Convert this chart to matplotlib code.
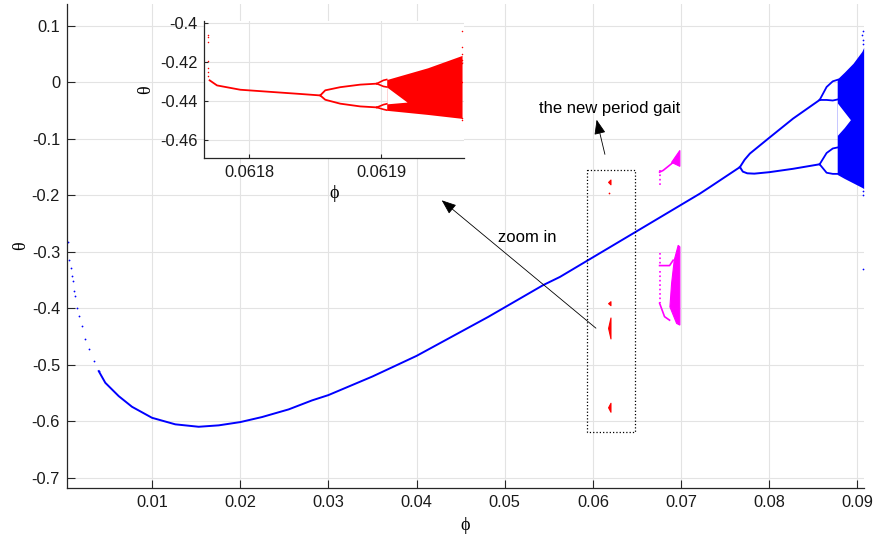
import numpy as np
import matplotlib
matplotlib.use("Agg")
import matplotlib.pyplot as plt

plt.rcParams['font.family'] = ['Liberation Sans', 'DejaVu Sans']
GREEK = ['Liberation Serif', 'DejaVu Serif']

# ---- main diagram data (phi, theta) ----
# sparse start of the period-1 curve
start_phi = [0.000476, 0.000624, 0.000816, 0.00093, 0.001043, 0.001156, 0.001304,
             0.001497, 0.001757, 0.002063, 0.002438, 0.002823, 0.00339, 0.003957]
start_theta = [-0.2832, -0.3150, -0.3287, -0.3421, -0.3522, -0.3699, -0.3788,
               -0.3995, -0.4142, -0.4319, -0.4554, -0.4731, -0.4938, -0.5115]
# period-1 curve
p1_phi = [0.003957, 0.004705, 0.006224, 0.007732, 0.0100, 0.012642,
          0.015295, 0.017562, 0.020011, 0.022472, 0.025499, 0.028141, 0.0300,
          0.0350, 0.0400, 0.0450, 0.04813, 0.05437, 0.05626, 0.0642, 0.07213,
          0.07327, 0.07667]
p1_theta = [-0.5115, -0.5322, -0.5558, -0.5747, -0.5942, -0.6058,
            -0.6101, -0.6076, -0.6018, -0.5929, -0.5793, -0.5634, -0.554,
            -0.521, -0.4845, -0.442, -0.4154, -0.359, -0.3446, -0.2708, -0.197,
            -0.1853, -0.150]
# period-2 branches
p2u_phi = [0.07667, 0.0772, 0.0778, 0.0800, 0.0827, 0.08571]
p2u_theta = [-0.150, -0.137, -0.126, -0.098, -0.064, -0.031]
p2l_phi = [0.07667, 0.0770, 0.0775, 0.0783, 0.0800, 0.0827, 0.08571]
p2l_theta = [-0.150, -0.158, -0.161, -0.1616, -0.159, -0.153, -0.145]
# period-4 loops
p4_phi = [0.08571, 0.0865, 0.0872, 0.0878]
p4a_up = [-0.031, -0.008, 0.002, 0.005]
p4a_lo = [-0.031, -0.031, -0.032, -0.030]
p4b_up = [-0.145, -0.125, -0.117, -0.115]
p4b_lo = [-0.145, -0.160, -0.162, -0.162]
# chaotic band
ch_phi = [0.0877, 0.0885, 0.0895, 0.0905, 0.0907]
ch_hi = [0.006, 0.018, 0.034, 0.055, 0.062]
ch_lo = [-0.163, -0.170, -0.178, -0.186, -0.188]
hole_phi = [0.0877, 0.0885, 0.0892]
hole_hi = [-0.036, -0.052, -0.066]
hole_lo = [-0.094, -0.080, -0.066]
blue_dots_phi = [0.0906, 0.0906, 0.0905, 0.0906, 0.0906, 0.0906, 0.0906]
blue_dots_theta = [0.068, 0.076, 0.084, 0.092, -0.193, -0.199, -0.331]

# red blobs near phi = 0.0618 (main view)
red_phi = [0.06172, 0.06199]
red_top = [-0.172, -0.3876, -0.4165, -0.5676]
red_bot = [-0.1805, -0.3947, -0.4536, -0.5835]
red_dot = (0.06183, -0.196)

# magenta structures
mag_dots_phi = 0.06756
mag_dots_ranges = [(-0.1545, -0.181), (-0.3015, -0.3245), (-0.3345, -0.3912)]
mag_up_line_phi = [0.06756, 0.06797, 0.06892, 0.0692]
mag_up_line_theta = [-0.159, -0.1558, -0.1439, -0.140]
mag_up_poly_phi = [0.06892, 0.06986, 0.06986]
mag_up_poly_theta = [-0.1416, -0.1204, -0.1487]
mag_lo_a_phi = [0.06756, 0.06869, 0.0691]
mag_lo_a_theta = [-0.3245, -0.3245, -0.315]
mag_lo_b_phi = [0.06756, 0.06812, 0.06869]
mag_lo_b_theta = [-0.3912, -0.415, -0.4212]
mag_lo_poly_phi = [0.06967, 0.06986, 0.06986, 0.06949, 0.06873, 0.06892, 0.06922]
mag_lo_poly_theta = [-0.2885, -0.2915, -0.430, -0.427, -0.3977, -0.3563, -0.315]

# ---- inset data ----
in_p1_phi = [0.061770, 0.0617756, 0.0617932, 0.0618184, 0.0618375, 0.0618537]
in_p1_theta = [-0.4294, -0.4320, -0.4342, -0.4354, -0.4363, -0.4371]
in_p2u_phi = [0.0618537, 0.0618575, 0.0618688, 0.0618839, 0.0618965]
in_p2u_theta = [-0.4371, -0.4345, -0.4329, -0.4316, -0.4311]
in_p2l_phi = [0.0618537, 0.0618575, 0.0618688, 0.0618839, 0.0618965]
in_p2l_theta = [-0.4371, -0.4393, -0.4413, -0.4427, -0.4432]
in_p4_phi = [0.0618965, 0.0619015, 0.0619040]
in_p4a_up = [-0.4311, -0.4294, -0.4290]
in_p4a_lo = [-0.4311, -0.4325, -0.4328]
in_p4b_up = [-0.4432, -0.4418, -0.4414]
in_p4b_lo = [-0.4432, -0.4442, -0.4446]
in_ch_phi = [0.0619040, 0.061935, 0.061961]
in_ch_hi = [-0.4290, -0.4230, -0.4167]
in_ch_lo = [-0.4447, -0.4468, -0.4488]
in_hole_phi = [0.0619040, 0.0619194]
in_hole_hi = [-0.4328, -0.4405]
in_hole_lo = [-0.4414, -0.4405]
in_dots_phi = [0.061769] * 7 + [0.061961] * 8
in_dots_theta = [-0.4065, -0.4075, -0.4098, -0.4197, -0.4233, -0.4250, -0.4270,
                 -0.4042, -0.4124, -0.4158, -0.4190, -0.4205, -0.4300, -0.4485, -0.4498]

BLUE = '#0000ff'
RED = '#ff0000'
MAG = '#ff00ff'
GRID = '#e3e3e3'
SPINE = '#262626'

fig = plt.figure(figsize=(8.77, 5.35), dpi=100)
ax = fig.add_axes([67 / 877, 47 / 535, 797 / 877, 484 / 535])

ax.plot(start_phi, start_theta, '.', color=BLUE, ms=2.6, mew=0)
ax.plot(p1_phi, p1_theta, color=BLUE, lw=1.4)
ax.plot(p2u_phi, p2u_theta, color=BLUE, lw=1.4)
ax.plot(p2l_phi, p2l_theta, color=BLUE, lw=1.4)
for up, lo in [(p4a_up, p4a_lo), (p4b_up, p4b_lo)]:
    ax.plot(p4_phi, up, color=BLUE, lw=1.3)
    ax.plot(p4_phi, lo, color=BLUE, lw=1.3)
ax.fill_between(ch_phi, ch_lo, ch_hi, color=BLUE, lw=0)
ax.fill_between(hole_phi, hole_lo, hole_hi, color='white', lw=0)
ax.plot(blue_dots_phi, blue_dots_theta, '.', color=BLUE, ms=2.5, mew=0)

for top, bot in zip(red_top, red_bot):
    mid = (top + bot) / 2
    ax.fill_between(red_phi, [mid, bot], [mid, top], color=RED, lw=0.8, edgecolor=RED)
ax.plot(*red_dot, '.', color=RED, ms=2.5, mew=0)

for a, b in mag_dots_ranges:
    ax.plot([mag_dots_phi, mag_dots_phi], [a, b], ':', color=MAG, lw=1.2)
ax.plot(mag_up_line_phi, mag_up_line_theta, color=MAG, lw=1.2)
ax.fill(mag_up_poly_phi, mag_up_poly_theta, color=MAG, lw=0.8)
ax.plot(mag_lo_a_phi, mag_lo_a_theta, color=MAG, lw=1.2)
ax.plot(mag_lo_b_phi, mag_lo_b_theta, color=MAG, lw=1.2)
ax.fill(mag_lo_poly_phi, mag_lo_poly_theta, color=MAG, lw=0.8)

# dotted box, arrows, labels
ax.plot([0.05929, 0.06480, 0.06480, 0.05929, 0.05929],
        [-0.1545, -0.1545, -0.6195, -0.6195, -0.1545], ':', color='k', lw=0.9)
arrow = dict(arrowstyle='-|>,head_length=0.9,head_width=0.35', color='k', lw=0.6,
             shrinkA=0, shrinkB=0)
ax.annotate('', xy=(0.06042, -0.066), xytext=(0.06136, -0.1274), arrowprops=arrow)
ax.annotate('', xy=(0.04285, -0.2088), xytext=(0.06034, -0.4354), arrowprops=arrow)
ax.text(0.0619, -0.046, 'the new period gait', fontsize=12, ha='center', va='center')
ax.text(0.05252, -0.2743, 'zoom in', fontsize=12, ha='center', va='center')

ax.set_xlim(0.00036, 0.09074)
ax.set_ylim(-0.7186, 0.139)
ax.set_xticks(np.arange(1, 10) / 100)
ax.set_xticklabels(['0.01', '0.02', '0.03', '0.04', '0.05', '0.06', '0.07', '0.08', '0.09'])
ax.set_yticks(np.arange(-7, 2) / 10)
ax.set_yticklabels(['-0.7', '-0.6', '-0.5', '-0.4', '-0.3', '-0.2', '-0.1', '0', '0.1'])
ax.set_xlabel('ϕ', family=GREEK, fontsize=13, labelpad=5)
ax.set_ylabel('θ', family=GREEK, fontsize=13, labelpad=2)


def style(a, ticklen):
    a.grid(True, color=GRID, lw=0.8)
    a.set_axisbelow(True)
    for s in ['top', 'right']:
        a.spines[s].set_visible(False)
    for s in ['left', 'bottom']:
        a.spines[s].set_color(SPINE)
        a.spines[s].set_linewidth(0.9)
    a.tick_params(direction='in', length=ticklen, width=0.8, color=SPINE,
                  labelsize=11.8, labelcolor='#1a1a1a', pad=5)


style(ax, 6)

# ---- inset ----
ins = fig.add_axes([0.233, 0.7047, 0.2961, 0.2566])
ins.set_facecolor('white')
ins.plot(in_p1_phi, in_p1_theta, color=RED, lw=1.3)
ins.plot(in_p2u_phi, in_p2u_theta, color=RED, lw=1.3)
ins.plot(in_p2l_phi, in_p2l_theta, color=RED, lw=1.3)
for up, lo in [(in_p4a_up, in_p4a_lo), (in_p4b_up, in_p4b_lo)]:
    ins.plot(in_p4_phi, up, color=RED, lw=1.2)
    ins.plot(in_p4_phi, lo, color=RED, lw=1.2)
ins.fill_between(in_ch_phi, in_ch_lo, in_ch_hi, color=RED, lw=0)
ins.fill_between(in_hole_phi, in_hole_lo, in_hole_hi, color='white', lw=0)
ins.plot(in_dots_phi, in_dots_theta, '.', color=RED, ms=2.2, mew=0)
ins.set_xlim(0.061766, 0.0619625)
ins.set_ylim(-0.469, -0.399)
ins.set_xticks([0.0618, 0.0619])
ins.set_xticklabels(['0.0618', '0.0619'])
ins.set_yticks([-0.46, -0.44, -0.42, -0.40])
ins.set_yticklabels(['-0.46', '-0.44', '-0.42', '-0.4'])
ins.set_xlabel('ϕ', family=GREEK, fontsize=13, labelpad=4)
ins.set_ylabel('θ', family=GREEK, fontsize=13, labelpad=4)
style(ins, 3)

fig.savefig('out.png', dpi=100)
